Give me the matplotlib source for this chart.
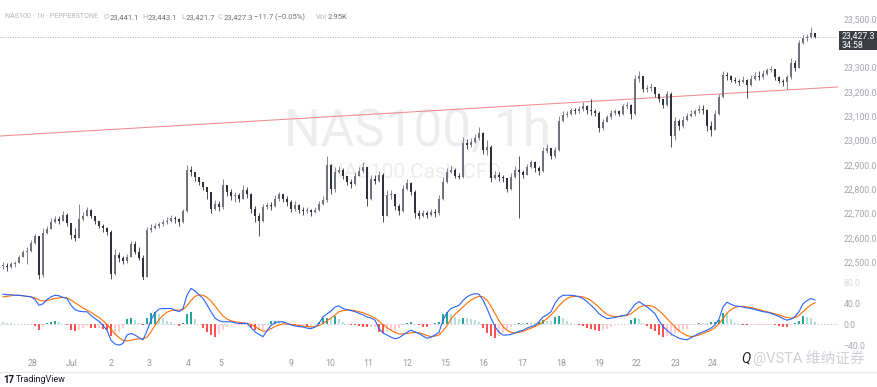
import matplotlib
matplotlib.use("Agg")
import matplotlib.pyplot as plt
from matplotlib.lines import Line2D
from matplotlib.patches import Rectangle
import numpy as np

plt.rcParams['font.family'] = ['Roboto', 'Noto Sans CJK SC', 'DejaVu Sans']

# NAS100 1h (resampled to the chart's pixel grid)
closes = [
    22485, 22478, 22490, 22495, 22520, 22540, 22545, 22580, 22605, 22445, 22620, 22635,
    22665, 22675, 22670, 22695, 22660, 22610, 22600, 22675, 22690, 22715, 22690, 22670, 22650,
    22640, 22625, 22450, 22530, 22515, 22505, 22520, 22575, 22540, 22515, 22440, 22630,
    22640, 22650, 22655, 22665, 22670, 22680, 22675, 22665, 22710, 22880, 22870, 22850, 22830,
    22810, 22790, 22720, 22740, 22725, 22815, 22790, 22770, 22775, 22760, 22795, 22780,
    22720, 22690, 22670, 22725, 22735, 22730, 22760, 22780, 22760, 22745, 22720, 22735,
    22715, 22710, 22715, 22705, 22715, 22740, 22755, 22900, 22800, 22870, 22880, 22855,
    22830, 22820, 22855, 22875, 22890, 22760, 22840, 22835, 22860, 22690, 22775, 22780,
    22730, 22710, 22800, 22825, 22790, 22700, 22690, 22700, 22695, 22705, 22700, 22760,
    22830, 22870, 22880, 22855, 22850, 22990, 22980, 22995, 23010, 23030, 22960, 22975,
    22845, 22860, 22850, 22845, 22800, 22850, 22880, 22870, 22860, 22890, 22910, 22885,
    22875, 22955, 22970, 22935, 22960, 23080, 23105, 23110, 23125, 23120, 23130, 23140,
    23125, 23120, 23115, 23050, 23075, 23095, 23115, 23120, 23110, 23140, 23145, 23110,
    23255, 23265, 23210, 23215, 23220, 23190, 23170, 23145, 23190, 23020, 23080, 23060,
    23085, 23100, 23110, 23120, 23130, 23125, 23060, 23045, 23110, 23180, 23270, 23265,
    23250, 23245, 23240, 23250, 23230, 23255, 23265, 23260, 23275, 23290, 23295, 23260,
    23245, 23240, 23260, 23320, 23300, 23400, 23420, 23425, 23441.1, 23427.3,
]
highs = [
    22500, 22495, 22500, 22505, 22530, 22550, 22560, 22590, 22615, 22595, 22640, 22650,
    22680, 22690, 22690, 22710, 22700, 22660, 22640, 22740, 22705, 22725, 22720, 22690, 22670,
    22655, 22645, 22630, 22555, 22540, 22525, 22535, 22585, 22585, 22560, 22530, 22645,
    22655, 22660, 22665, 22675, 22685, 22695, 22690, 22680, 22720, 22900, 22895, 22870, 22850,
    22825, 22810, 22775, 22755, 22750, 22840, 22815, 22800, 22790, 22785, 22815, 22810,
    22785, 22730, 22700, 22740, 22745, 22745, 22775, 22790, 22780, 22770, 22755, 22750,
    22740, 22725, 22725, 22720, 22725, 22750, 22770, 22935, 22905, 22890, 22895, 22885,
    22855, 22840, 22870, 22890, 22910, 22890, 22860, 22860, 22875, 22865, 22795, 22795,
    22780, 22740, 22815, 22840, 22830, 22795, 22715, 22715, 22710, 22720, 22720, 22775,
    22850, 22885, 22900, 22885, 22865, 23015, 23005, 23010, 23025, 23055, 23035, 23000,
    22980, 22875, 22870, 22860, 22845, 22865, 22895, 22935, 22880, 22905, 22920, 22915,
    22895, 22975, 22985, 22965, 22975, 23100, 23120, 23120, 23135, 23135, 23140, 23160,
    23145, 23170, 23130, 23120, 23090, 23105, 23125, 23130, 23125, 23150, 23160, 23150,
    23270, 23285, 23265, 23230, 23235, 23220, 23195, 23170, 23205, 23200, 23095, 23090,
    23100, 23115, 23125, 23130, 23145, 23145, 23130, 23080, 23125, 23190, 23285, 23280,
    23270, 23260, 23255, 23265, 23255, 23270, 23280, 23285, 23290, 23300, 23305, 23295,
    23265, 23255, 23270, 23340, 23330, 23415, 23435, 23440, 23465, 23443.1,
]
lows = [
    22470, 22465, 22475, 22480, 22495, 22520, 22490, 22540, 22575, 22430, 22440, 22615,
    22640, 22660, 22655, 22670, 22650, 22595, 22585, 22600, 22670, 22695, 22680, 22655, 22640,
    22625, 22610, 22430, 22445, 22500, 22490, 22495, 22520, 22535, 22510, 22428, 22440,
    22625, 22635, 22640, 22650, 22655, 22665, 22660, 22650, 22660, 22705, 22855, 22835, 22815,
    22795, 22760, 22700, 22715, 22710, 22720, 22770, 22755, 22745, 22745, 22760, 22765,
    22700, 22665, 22605, 22665, 22720, 22715, 22725, 22750, 22745, 22730, 22705, 22710,
    22700, 22695, 22700, 22690, 22700, 22710, 22735, 22745, 22780, 22790, 22865, 22840,
    22815, 22805, 22815, 22860, 22865, 22730, 22755, 22820, 22830, 22665, 22690, 22760,
    22715, 22695, 22705, 22795, 22775, 22680, 22675, 22685, 22680, 22690, 22685, 22695,
    22755, 22825, 22865, 22845, 22840, 22845, 22965, 22975, 22990, 23000, 22945, 22940,
    22830, 22840, 22835, 22830, 22790, 22795, 22845, 22680, 22845, 22860, 22885, 22870,
    22860, 22870, 22950, 22925, 22930, 22955, 23075, 23095, 23105, 23110, 23115, 23120,
    23110, 23105, 23100, 23035, 23045, 23075, 23090, 23105, 23100, 23105, 23130, 23090,
    23105, 23240, 23200, 23200, 23205, 23180, 23160, 23135, 23140, 22975, 23000, 23045,
    23050, 23080, 23095, 23100, 23115, 23110, 23040, 23020, 23045, 23105, 23175, 23250,
    23240, 23235, 23230, 23235, 23175, 23225, 23250, 23250, 23255, 23270, 23280, 23250,
    23235, 23225, 23210, 23255, 23285, 23390, 23395, 23410, 23420, 23421.7,
]

macd_line = [
    57, 56, 56, 55, 55, 54, 53, 52, 47, 36, 39, 47,
    52, 55, 54, 51, 49, 36, 28, 25, 24, 24, 17, 11, 6,
    -2, -11, -30, -37, -39, -36, -20, -17, -20, -25, -29, -12,
    8, 22, 29, 30, 30, 30, 27, 24, 30, 55, 68, 63, 56,
    49, 37, 24, 12, 7, 5, 5, 5, 3, 2, 2, 2,
    -6, -14, -19, -23, -12, -2, 3, 5, 5, 2, -1, -3,
    -4, -5, -7, -8, -5, 2, 14, 20, 25, 33, 35, 30,
    28, 26, 24, 21, 18, 14, 12, 8, -8, -16, -20, -24,
    -27, -25, -20, -15, -11, -14, -17, -22, -26, -24, -20, -15,
    8, 22, 30, 33, 36, 45, 52, 56, 58, 57, 46, 30,
    12, -4, -15, -20, -20, -19, -16, -13, -11, -7, -4, -2,
    5, 14, 18, 24, 40, 50, 55, 55, 55, 54, 52, 49,
    43, 36, 29, 20, 15, 11, 12, 13, 15, 17, 18, 28,
    38, 43, 38, 33, 27, 20, 7, -4, -11, -18, -22, -26,
    -28, -29, -25, -21, -17, -14, -11, -7, -1, 10, 33, 42,
    38, 35, 34, 33, 31, 30, 28, 26, 24, 23, 21, 18,
    15, 11, 8, 10, 15, 24, 39, 45, 49, 46,
]
signal_line = [
    52, 53, 54, 55, 55, 54, 53, 52, 50, 46, 44, 45,
    47, 49, 50, 51, 50, 46, 41, 36, 31, 27, 23, 18, 13,
    7, 0, -9, -18, -25, -30, -31, -30, -28, -27, -27, -24,
    -14, -2, 9, 17, 23, 26, 27, 27, 28, 35, 45, 53, 56,
    55, 51, 44, 35, 25, 16, 10, 7, 5, 4, 3, 2,
    0, -4, -9, -13, -12, -8, -4, -1, 1, 1, 0, -1,
    -2, -3, -4, -5, -4, -2, 2, 7, 12, 18, 24, 26,
    27, 27, 26, 24, 22, 19, 16, 12, 6, 0, -6, -11,
    -15, -18, -18, -17, -16, -15, -16, -18, -21, -23, -22, -20,
    -12, -2, 10, 19, 26, 33, 40, 46, 50, 53, 52, 46,
    34, 21, 7, -4, -11, -15, -16, -15, -13, -10, -7, -4,
    0, 5, 11, 18, 26, 35, 43, 49, 52, 53, 53, 52,
    49, 45, 39, 32, 25, 19, 16, 15, 15, 16, 17, 20,
    26, 32, 35, 36, 35, 32, 26, 19, 11, 3, -5, -12,
    -17, -21, -23, -22, -20, -17, -14, -11, -6, 1, 11, 21,
    28, 32, 34, 34, 33, 32, 30, 28, 26, 24, 22, 20,
    18, 15, 13, 12, 13, 17, 24, 31, 37, 41,
]

# time axis: bar index where each day starts
day_pos = [7.5, 17.25, 27, 36.5, 46.25, 54.5, 72, 81.75, 91.25, 101, 110.5,
           120, 129.75, 139.5, 149, 158.5, 168.25, 177.5]
day_labels = ['28', 'Jul', '2', '3', '4', '5', '9', '10', '11', '12', '15',
              '16', '17', '18', '19', '22', '23', '24']

# 23,400 sits under the last-price tag in the reference
price_ticks = [22500, 22600, 22700, 22800, 22900, 23000, 23100, 23200, 23300, 23500]
macd_ticks = [-40, 0, 40, 80]

# legend line above the chart
header = [('NAS100 \u00b7 1h \u00b7 PEPPERSTONE', 'l'), ('O', 'l'), ('23,441.1', 'd'),
          ('H', 'l'), ('23,443.1', 'd'), ('L', 'l'), ('23,421.7', 'd'), ('C', 'l'),
          ('23,427.3', 'd'), ('\u221211.7 (\u22120.05%)', 'd'), ('Vol', 'l'), ('2.95K', 'd')]
header_x = [5, 104, 109.5, 142, 147.5, 181, 186, 218, 223.5, 254, 316, 328]

trend_x = [-0.75, 208.75]
trend_y = [23018.5, 23220.2]
last_price = 23427.3

c = np.array(closes, dtype=float)
o = np.r_[c[0], c[:-1]]
h = np.maximum(np.array(highs, dtype=float), np.maximum(o, c))
l = np.minimum(np.array(lows, dtype=float), np.minimum(o, c))
idx = np.arange(len(c))

W, H = 878, 387
fig = plt.figure(figsize=(W / 100, H / 100), dpi=100)
fig.patch.set_facecolor('white')

ax = fig.add_axes([0, 1 - 280 / H, 838 / W, 280 / H])
axm = fig.add_axes([0, 1 - 352 / H, 838 / W, 70 / H])

# watermark behind candles
ax.text(418 / W, 1 - 131 / H, 'NAS100, 1h', transform=fig.transFigure, fontsize=37,
        color='#ededf0', ha='center', va='center', zorder=0)
ax.text(415 / W, 1 - 172 / H, 'NAS100 Cash CFD', transform=fig.transFigure, fontsize=15,
        color='#ededf0', ha='center', va='center', zorder=0)

# candles
up = c >= o
body_col = np.where(up, '#70737d', '#2f323b')
ax.vlines(idx, l, h, colors=body_col, lw=0.6, zorder=2)
ax.bar(idx, np.maximum(np.abs(c - o), 3), bottom=np.minimum(o, c), width=0.55,
       color=body_col, lw=0, zorder=3)

ax.plot(trend_x, trend_y, color='#f28b8b', lw=0.75, zorder=1)
ax.axhline(last_price, color='#9598a1', lw=0.6, ls=(0, (1, 2)), zorder=1)

ax.set_xlim(-0.75, 208.75)
ax.set_ylim(22426, 23578)
ax.yaxis.tick_right()
ax.set_yticks(price_ticks)
ax.set_yticklabels([f'{v:,.1f}' for v in price_ticks])
ax.tick_params(axis='y', length=0, pad=4, labelsize=6.3, labelcolor='#a3a6af')
ax.set_xticks([])
for s in ax.spines.values():
    s.set_visible(False)

# MACD pane
hist = np.array(macd_line, dtype=float) - np.array(signal_line, dtype=float)
prev = np.r_[hist[0], hist[:-1]]
hcol = np.where(hist >= 0,
                np.where(hist > prev, '#26a69a', '#b2dfdb'),
                np.where(hist < prev, '#ff5252', '#ffcdd2'))
axm.axhline(0, color='#c0c3cb', lw=0.6, ls=(0, (2, 2)), zorder=0)
axm.bar(idx, hist, width=0.7, color=hcol, lw=0, zorder=1)
axm.plot(idx, macd_line, color='#2962ff', lw=0.8, zorder=3)
axm.plot(idx, signal_line, color='#ff6d00', lw=0.8, zorder=2)
axm.set_xlim(-0.75, 208.75)
axm.set_ylim(-52, 80)
axm.yaxis.tick_right()
axm.set_yticks(macd_ticks)
axm.set_yticklabels(['\u221240.0', '0.0', '40.0', '80.0'])
axm.tick_params(axis='y', length=0, pad=4, labelsize=6.3, labelcolor='#a3a6af')
axm.get_yticklabels()[-1].set_color('#d6d8de')
axm.set_xticks(day_pos)
axm.set_xticklabels(day_labels)
axm.tick_params(axis='x', length=0, pad=5, labelsize=6.3, labelcolor='#9598a1')
for s in axm.spines.values():
    s.set_visible(False)

# last price tag
fig.add_artist(Rectangle((839 / W, 1 - 50 / H), 38 / W, 19 / H, transform=fig.transFigure,
                         facecolor='#3b3e45', edgecolor='none'))
fig.text(842 / W, 1 - 36.5 / H, '23,427.3', color='white', fontsize=6.3, va='center')
fig.text(842 / W, 1 - 45 / H, '34:58', color='white', fontsize=6.3, va='center')

# header legend
shade = {'l': '#b2b5be', 'd': '#6a6d78'}
for i, ((txt, kind), xp) in enumerate(zip(header, header_x)):
    fig.text(xp / W, 1 - 17 / H, txt, color=shade[kind],
             fontsize=5.1 if i == 0 else 5.5, va='center')

# bottom separator, branding
fig.add_artist(Line2D([0, 1], [1 - 372 / H] * 2, color='#e6e8ee', lw=0.8))
fig.text(3 / W, 1 - 380 / H, '17', fontsize=7, fontweight='bold', color='#131722', va='center')
fig.text(16 / W, 1 - 380 / H, 'TradingView', fontsize=6.5, color='#131722', va='center')
fig.text(741 / W, 1 - 358 / H, 'Q', fontsize=10, style='italic', color='#222222', va='center')
fig.text(753 / W, 1 - 358 / H, '@VSTA 维纳证券', fontsize=10.5, color='#cfd1d6', va='center')

fig.savefig('out.png', dpi=100)
